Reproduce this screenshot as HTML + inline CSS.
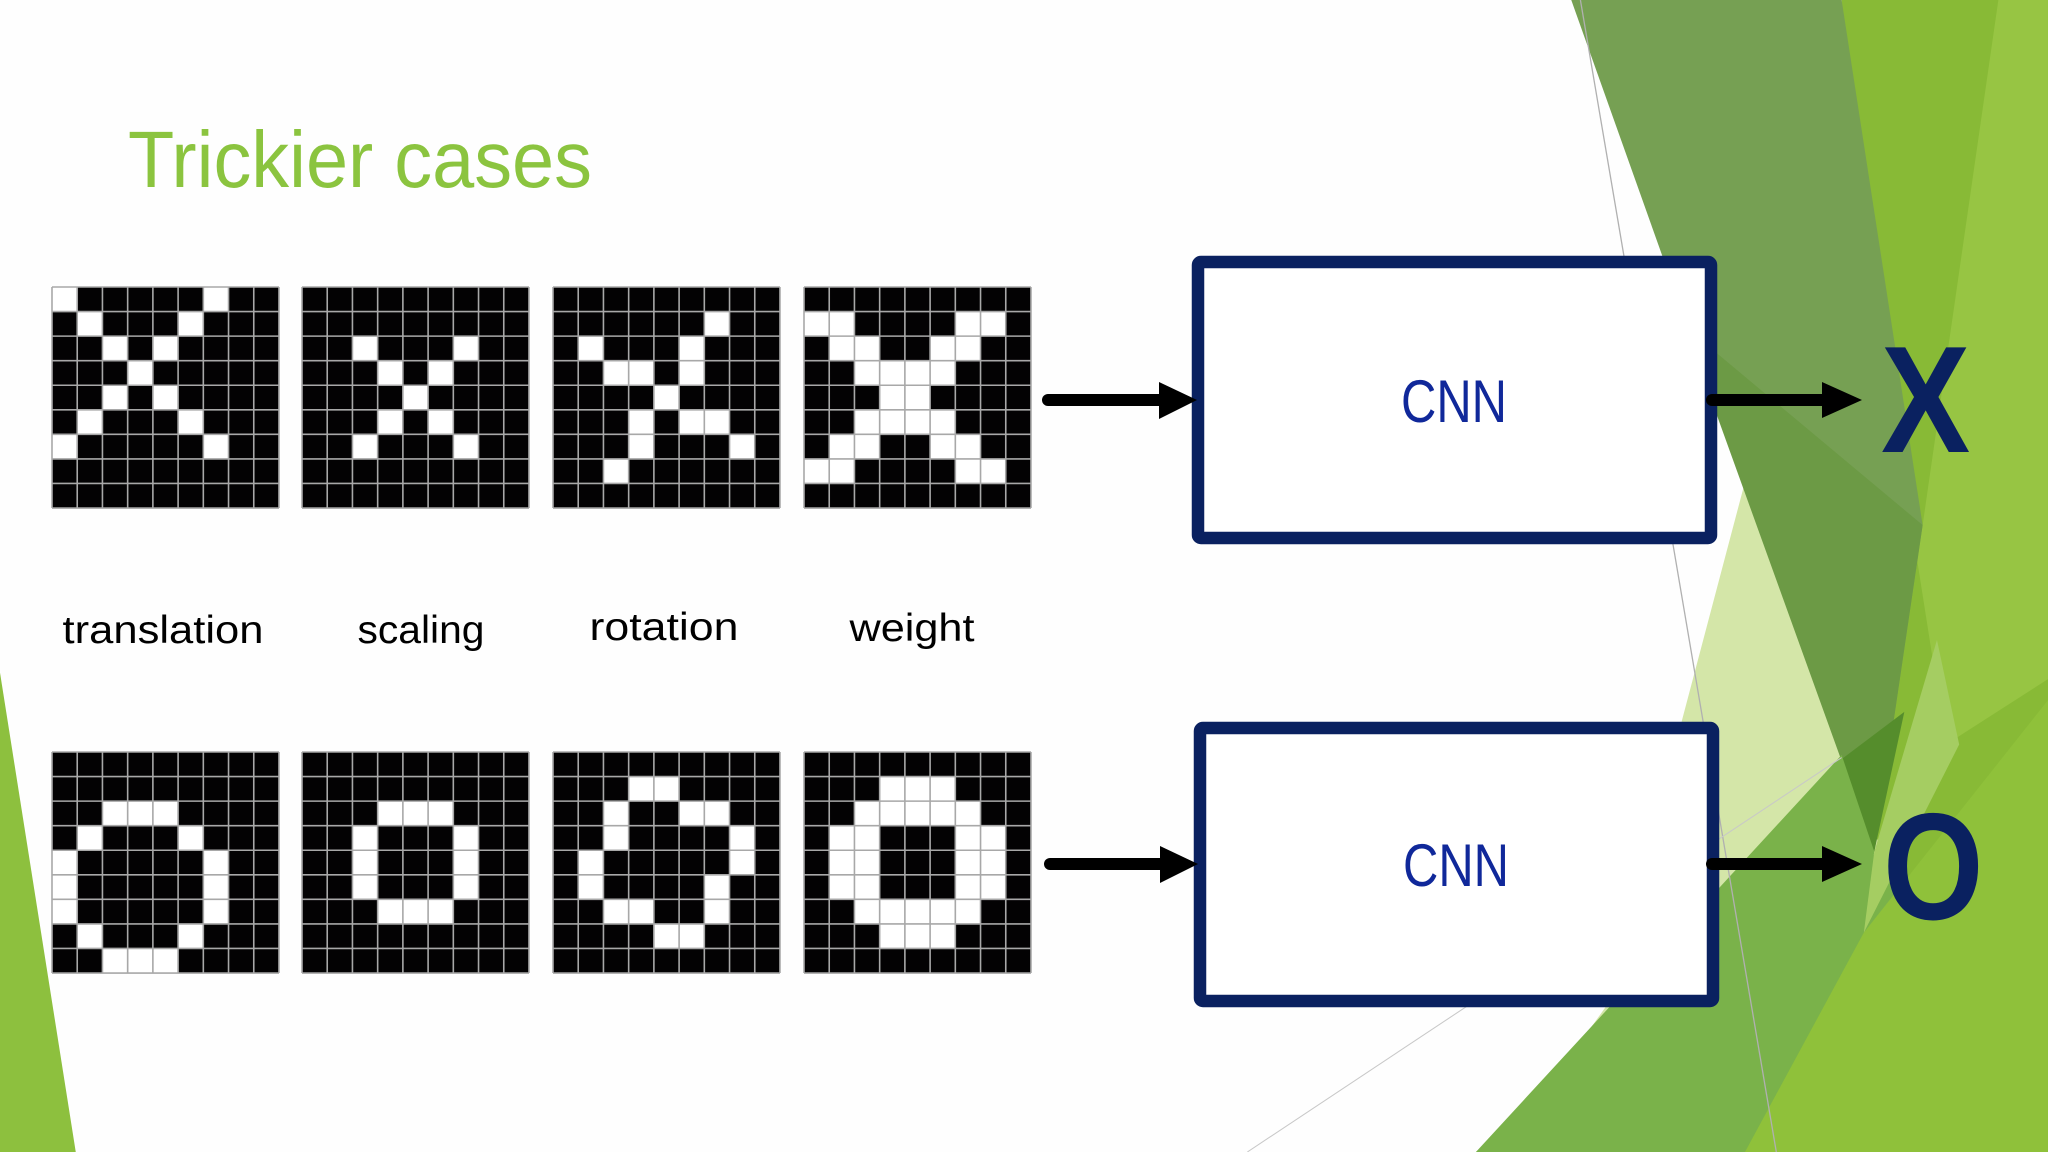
<!DOCTYPE html>
<html><head><meta charset="utf-8"><style>
html,body{margin:0;padding:0;background:#fff;}
svg{display:block;}
</style></head><body>
<svg width="2048" height="1152" viewBox="0 0 2048 1152" xmlns="http://www.w3.org/2000/svg">
<rect width="2048" height="1152" fill="#fefefe"/>
<g transform="scale(1.30612)">
  <polygon points="1130,882 1435,652 1568,400 1568,882" fill="#7ab24a"/>
  <polygon points="1410,0 1568,0 1568,882 1435,652" fill="#88ba36"/>
  <polygon points="1530,0 1568,0 1568,520 1490,570 1468,430" fill="#97c543"/>
  <polygon points="1336,369 1440,650 1160,882 1150,882 1230,770" fill="#d4e6a8"/>
  <polygon points="1203,0 1410,0 1472,402 1435,652" fill="#76a053"/>
  <polygon points="1290,250 1472,402 1435,652" fill="#6c9a45"/>
  <polygon points="1405,585 1458,545 1435,652" fill="#558d2c"/>
  <polygon points="1130,882 1410,578 1435,652 1427,714 1336,882" fill="#7ab24a"/>
  <polygon points="1336,882 1427,714 1568,536 1568,882" fill="#8fc13a"/>
  <polygon points="1435,652 1483,490 1500,570 1427,714" fill="#a5cd62"/>
  <polygon points="0,515 58,882 0,882" fill="#8dc03e"/>
  <line x1="1210" y1="0" x2="1360" y2="882" stroke="#b0b0b0" stroke-width="1"/>
  <line x1="955" y1="882" x2="1410" y2="580" stroke="#c8c8c8" stroke-width="0.8"/>
</g>

<text x="128" y="187" font-family="Liberation Sans, sans-serif" font-size="80" fill="#8bc43f" textLength="464" lengthAdjust="spacingAndGlyphs">Trickier cases</text>

<defs>
  <path id="gl" d="M0 0V9M1 0V9M2 0V9M3 0V9M4 0V9M5 0V9M6 0V9M7 0V9M8 0V9M9 0V9M0 0H9M0 1H9M0 2H9M0 3H9M0 4H9M0 5H9M0 6H9M0 7H9M0 8H9M0 9H9" fill="none" stroke="#a8a8a8" stroke-width="1.6" vector-effect="non-scaling-stroke"/>
</defs>

<g transform="translate(52,287) scale(25.22,24.56)">
  <rect width="9" height="9" fill="#030203"/>
  <path fill="#fff" d="M0 0h1v1h-1zM6 0h1v1h-1zM1 1h1v1h-1zM5 1h1v1h-1zM2 2h1v1h-1zM4 2h1v1h-1zM3 3h1v1h-1zM2 4h1v1h-1zM4 4h1v1h-1zM1 5h1v1h-1zM5 5h1v1h-1zM0 6h1v1h-1zM6 6h1v1h-1z"/>
  <use href="#gl"/>
</g>
<g transform="translate(302,287) scale(25.22,24.56)">
  <rect width="9" height="9" fill="#030203"/>
  <path fill="#fff" d="M2 2h1v1h-1zM6 2h1v1h-1zM3 3h1v1h-1zM5 3h1v1h-1zM4 4h1v1h-1zM3 5h1v1h-1zM5 5h1v1h-1zM2 6h1v1h-1zM6 6h1v1h-1z"/>
  <use href="#gl"/>
</g>
<g transform="translate(553,287) scale(25.22,24.56)">
  <rect width="9" height="9" fill="#030203"/>
  <path fill="#fff" d="M6 1h1v1h-1zM1 2h1v1h-1zM5 2h1v1h-1zM2 3h2v1h-2zM5 3h1v1h-1zM4 4h1v1h-1zM3 5h1v1h-1zM5 5h2v1h-2zM3 6h1v1h-1zM7 6h1v1h-1zM2 7h1v1h-1z"/>
  <use href="#gl"/>
</g>
<g transform="translate(804,287) scale(25.22,24.56)">
  <rect width="9" height="9" fill="#030203"/>
  <path fill="#fff" d="M0 1h2v1h-2zM6 1h2v1h-2zM1 2h2v1h-2zM5 2h2v1h-2zM2 3h4v1h-4zM3 4h2v1h-2zM2 5h4v1h-4zM1 6h2v1h-2zM5 6h2v1h-2zM0 7h2v1h-2zM6 7h2v1h-2z"/>
  <use href="#gl"/>
</g>

<g transform="translate(52,752) scale(25.22,24.56)">
  <rect width="9" height="9" fill="#030203"/>
  <path fill="#fff" d="M2 2h3v1h-3zM1 3h1v1h-1zM5 3h1v1h-1zM0 4h1v3h-1zM6 4h1v3h-1zM1 7h1v1h-1zM5 7h1v1h-1zM2 8h3v1h-3z"/>
  <use href="#gl"/>
</g>
<g transform="translate(302,752) scale(25.22,24.56)">
  <rect width="9" height="9" fill="#030203"/>
  <path fill="#fff" d="M3 2h3v1h-3zM2 3h1v3h-1zM6 3h1v3h-1zM3 6h3v1h-3z"/>
  <use href="#gl"/>
</g>
<g transform="translate(553,752) scale(25.22,24.56)">
  <rect width="9" height="9" fill="#030203"/>
  <path fill="#fff" d="M3 1h2v1h-2zM2 2h1v1h-1zM5 2h2v1h-2zM2 3h1v1h-1zM7 3h1v1h-1zM1 4h1v1h-1zM7 4h1v1h-1zM1 5h1v1h-1zM6 5h1v1h-1zM2 6h2v1h-2zM6 6h1v1h-1zM4 7h2v1h-2z"/>
  <use href="#gl"/>
</g>
<g transform="translate(804,752) scale(25.22,24.56)">
  <rect width="9" height="9" fill="#030203"/>
  <path fill="#fff" d="M3 1h3v1h-3zM2 2h5v1h-5zM1 3h2v3h-2zM6 3h2v3h-2zM2 6h5v1h-5zM3 7h3v1h-3z"/>
  <use href="#gl"/>
</g>

<g font-family="Liberation Sans, sans-serif" font-size="39" fill="#000" text-anchor="middle">
  <text x="163" y="643" textLength="201" lengthAdjust="spacingAndGlyphs">translation</text>
  <text x="421" y="643" textLength="127" lengthAdjust="spacingAndGlyphs">scaling</text>
  <text x="664" y="640" textLength="149" lengthAdjust="spacingAndGlyphs">rotation</text>
  <text x="912" y="641" textLength="125" lengthAdjust="spacingAndGlyphs">weight</text>
</g>

<rect x="1198" y="262" width="513" height="276" rx="3" fill="#fff" stroke="#0a2160" stroke-width="12.5"/>
<rect x="1200" y="728" width="513" height="273" rx="3" fill="#fff" stroke="#0a2160" stroke-width="12.5"/>
<g font-family="Liberation Sans, sans-serif" font-size="60" fill="#10289a" text-anchor="middle">
  <text x="1454" y="422" textLength="106" lengthAdjust="spacingAndGlyphs">CNN</text>
  <text x="1456" y="886" textLength="106" lengthAdjust="spacingAndGlyphs">CNN</text>
</g>

<g stroke="#000" stroke-width="12" stroke-linecap="round">
  <line x1="1048" y1="400" x2="1165" y2="400"/>
  <line x1="1050" y1="864" x2="1165" y2="864"/>
  <line x1="1712" y1="400" x2="1830" y2="400"/>
  <line x1="1712" y1="864" x2="1830" y2="864"/>
</g>
<g fill="#000">
  <polygon points="1159,382 1197,400 1159,419"/>
  <polygon points="1160,846 1198,864 1160,883"/>
  <polygon points="1822,382 1862,400 1822,418"/>
  <polygon points="1822,846 1862,864 1822,882"/>
</g>

<text x="0" y="0" font-family="Liberation Sans, sans-serif" font-weight="bold" font-size="152" fill="#0a2160" transform="translate(1881,452) scale(0.88,1)">X</text>
<text x="0" y="0" font-family="Liberation Sans, sans-serif" font-weight="bold" font-size="152" fill="#0a2160" transform="translate(1883,919) scale(0.85,1)">O</text>
</svg>
</body></html>
